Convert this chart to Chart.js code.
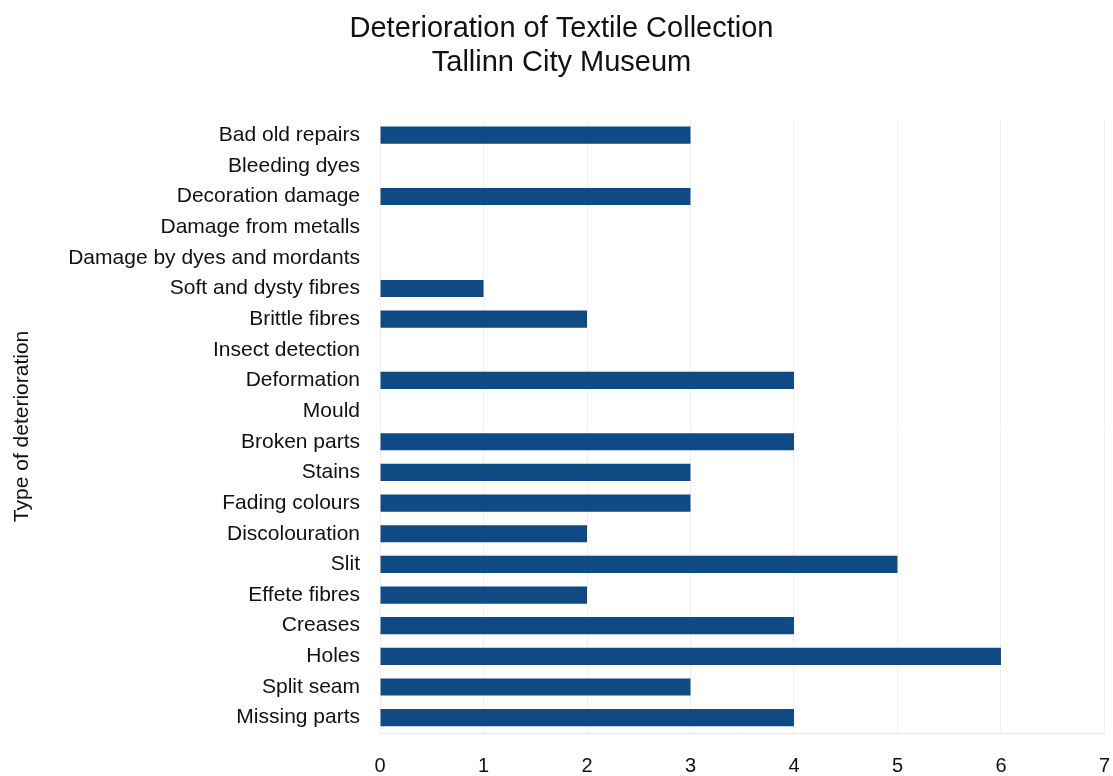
<!DOCTYPE html>
<html>
<head>
<meta charset="utf-8">
<script src="https://cdn.jsdelivr.net/npm/chart.js@4/dist/chart.umd.min.js"></script>
<style>
  body { margin: 0; background: #fff; }
  #wrap { width: 1113px; height: 776px; }
</style>
</head>
<body>
<div id="wrap"><canvas id="grafico" width="1113" height="776"></canvas></div>
<script>
const categorias = [
    "Bad old repairs", "Bleeding dyes", "Decoration damage", "Damage from metalls",
    "Damage by dyes and mordants", "Soft and dysty fibres", "Brittle fibres",
    "Insect detection", "Deformation", "Mould", "Broken parts", "Stains",
    "Fading colours", "Discolouration", "Slit", "Effete fibres", "Creases",
    "Holes", "Split seam", "Missing parts"
];
const valores = [3, 0, 3, 0, 0, 1, 2, 0, 4, 0, 4, 3, 3, 2, 5, 2, 4, 6, 3, 4];
const titulo = ["Deterioration of Textile Collection", "Tallinn City Museum"];
const tituloEixo = "Type of deterioration";

const fonte = "'Liberation Sans', Arial, sans-serif";

const ctx = document.getElementById("grafico").getContext("2d");
new Chart(ctx, {
    type: "bar",
    data: {
        labels: categorias,
        datasets: [{
            data: valores,
            backgroundColor: "#0f4a84",
            borderWidth: 0,
            barPercentage: 0.56,
            categoryPercentage: 1
        }]
    },
    options: {
        indexAxis: "y",
        responsive: false,
        animation: false,
        layout: { padding: { left: 10, right: 0, top: 0, bottom: -5 } },
        plugins: {
            legend: { display: false },
            tooltip: { enabled: false },
            title: {
                display: true,
                text: titulo,
                color: "#111",
                font: { family: fonte, size: 29, weight: "normal", lineHeight: 1.17 },
                padding: { top: 12, bottom: 40 }
            }
        },
        scales: {
            x: {
                min: 0,
                max: 7,
                ticks: {
                    stepSize: 1,
                    color: "#111",
                    padding: 3,
                    font: { family: fonte, size: 20 }
                },
                grid: { color: "#f0f0f0", drawTicks: true, tickLength: 18, tickColor: "rgba(0,0,0,0)" },
                border: { color: "#e8e8e8" }
            },
            y: {
                ticks: {
                    color: "#111",
                    padding: 3,
                    font: { family: fonte, size: 21 }
                },
                grid: { display: false, drawTicks: true, tickLength: 17 },
                border: { color: "#eeeeee" },
                title: {
                    display: true,
                    text: tituloEixo,
                    color: "#111",
                    font: { family: fonte, size: 21 },
                    padding: { top: 0, bottom: 30 }
                }
            }
        }
    }
});
</script>
</body>
</html>
